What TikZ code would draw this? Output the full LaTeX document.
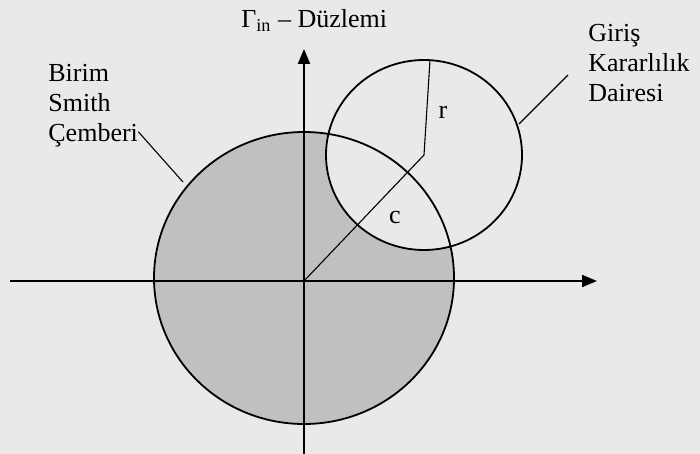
\documentclass[tikz,border=0pt]{standalone}
\usepackage{fontspec}
\setmainfont{Liberation Serif}
\usetikzlibrary{arrows.meta}
\definecolor{kagit}{RGB}{233,233,231}
\definecolor{golge}{RGB}{192,192,190}
\tikzset{
  eksen/.style={line width=1pt,-{Triangle[length=7.5pt,width=6pt]}},
  cember/.style={line width=0.9pt},
  kilavuz/.style={line width=0.55pt},
  yazi/.style={anchor=base west,inner sep=0pt,font=\fontsize{13}{15}\selectfont}
}
\begin{document}
\begin{tikzpicture}[x=0.5pt,y=-0.5pt]
\useasboundingbox[fill=kagit] (0,0) rectangle (700,454);

\coordinate (O) at (304,281);
\coordinate (M) at (424,155);
\coordinate (rucu) at (430,60);
\coordinate (xbas) at (10,281);
\coordinate (xson) at (597,281);
\coordinate (ybas) at (304,454);
\coordinate (yson) at (304,49);

% birim cember, golgeli
\fill[golge] (304,278) circle [x radius=75pt, y radius=73pt];
\fill[kagit] (M) circle [x radius=49pt, y radius=47.5pt];
\draw[cember] (304,278) circle [x radius=75pt, y radius=73pt];
\draw[cember] (M) circle [x radius=49pt, y radius=47.5pt];

\draw[eksen] (xbas) -- (xson);
\draw[eksen] (ybas) -- (yson);

\draw[kilavuz] (O) -- (M);
\draw[kilavuz] (M) -- (rucu);
\node (r) at (443,112) {\fontsize{13}{15}\selectfont r};
\node (c) at (395,218) {\fontsize{13}{15}\selectfont c};

\node[yazi] (baslik) at (241,28) {Γ\textsubscript{in} – Düzlemi};

\node[yazi] (birim) at (48,82) {Birim};
\node[yazi] (smith) at (48,112) {Smith};
\node[yazi] (cemberi) at (48,142) {Çemberi};
\coordinate (smithkenar) at (183,182);
\draw[kilavuz] (cemberi.east) ++(0,-4) -- (smithkenar);

\node[yazi] (giris) at (588,42) {Giriş};
\node[yazi] (kararlilik) at (588,72) {Kararlılık};
\node[yazi] (dairesi) at (588,102) {Dairesi};
\coordinate (girisucu) at (568,75);
\coordinate (girisKenar) at (519,124);
\draw[kilavuz] (girisucu) -- (girisKenar);
\end{tikzpicture}
\end{document}
